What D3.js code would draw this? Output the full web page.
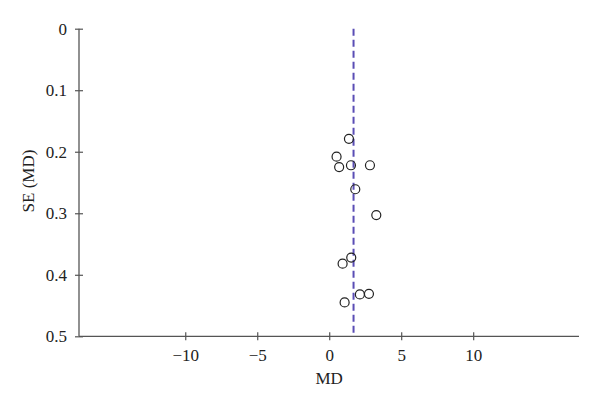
<!DOCTYPE html>
<html>
<head>
<meta charset="utf-8">
<script src="https://cdn.jsdelivr.net/npm/d3@7"></script>
<style>
  body { margin: 0; background: #fff; }
  svg { display: block; }
  text { font-family: "Liberation Serif", "DejaVu Serif", serif; fill: #222; }
</style>
</head>
<body>
<svg id="chart" width="600" height="405"></svg>
<script>
// Data
const md = [1.37, 0.51, 0.69, 1.51, 2.83, 1.81, 3.27, 1.53, 0.93, 2.13, 2.76, 1.07];
const se = [0.179, 0.208, 0.225, 0.222, 0.222, 0.261, 0.303, 0.372, 0.382, 0.432, 0.431, 0.445];
const pooledMD = 1.69;
const xTicks = [-10, -5, 0, 5, 10];
const yTicks = [0, 0.1, 0.2, 0.3, 0.4, 0.5];
const xLabel = "MD";
const yLabel = "SE (MD)";

const svg = d3.select("#chart");
const mLeft = 79, mRight = 579, mTop = 28.7, mBottom = 336.3;

const x = d3.scaleLinear().domain([-17.38, 17.35]).range([mLeft, mRight]);
const y = d3.scaleLinear().domain([0, 0.5]).range([mTop, mBottom]);

const axisColor = "#555";
const fs = 17;

// X axis
const xAxis = svg.append("g").attr("transform", `translate(0,${mBottom})`)
  .call(d3.axisBottom(x).tickValues(xTicks).tickSize(0).tickPadding(13)
    .tickFormat(d => d < 0 ? "\u2212" + Math.abs(d) : d));
xAxis.select(".domain").attr("stroke", axisColor).attr("stroke-width", 1.3).attr("d", `M${mLeft},0H${mRight}`);
xAxis.selectAll(".tick").append("line").attr("y1", -4).attr("y2", 4).attr("stroke", axisColor).attr("stroke-width", 1.2);
xAxis.selectAll(".tick text").attr("font-size", fs).attr("fill", "#222")
  .attr("font-family", '"Liberation Serif", serif');

// Y axis
const yAxis = svg.append("g").attr("transform", `translate(${mLeft},0)`)
  .call(d3.axisLeft(y).tickValues(yTicks).tickSize(0).tickPadding(12)
    .tickFormat(d => d === 0 ? "0" : d3.format(".1f")(d)));
yAxis.select(".domain").attr("stroke", axisColor).attr("stroke-width", 1.3).attr("d", `M0,${mTop}V${mBottom}`);
yAxis.selectAll(".tick").append("line").attr("x1", -4).attr("x2", 4).attr("stroke", axisColor).attr("stroke-width", 1.2);
yAxis.selectAll(".tick text").attr("font-size", fs).attr("fill", "#222")
  .attr("font-family", '"Liberation Serif", serif');

// Pooled estimate dashed line
svg.append("line")
  .attr("x1", x(pooledMD)).attr("x2", x(pooledMD))
  .attr("y1", y(0)).attr("y2", y(0.5))
  .attr("stroke", "#5a4db5").attr("stroke-width", 2)
  .attr("stroke-dasharray", "7,4");

// Points
svg.append("g").selectAll("circle")
  .data(md.map((v, i) => ({ md: v, se: se[i] })))
  .join("circle")
  .attr("cx", d => x(d.md)).attr("cy", d => y(d.se))
  .attr("r", 4.5)
  .attr("fill", "none").attr("stroke", "#222").attr("stroke-width", 1.2);

// Axis labels
svg.append("text").attr("x", x(0)).attr("y", 384)
  .attr("text-anchor", "middle").attr("font-size", fs).text(xLabel);
svg.append("text")
  .attr("transform", `translate(34,181) rotate(-90)`)
  .attr("text-anchor", "middle").attr("font-size", fs).text(yLabel);
</script>
</body>
</html>
